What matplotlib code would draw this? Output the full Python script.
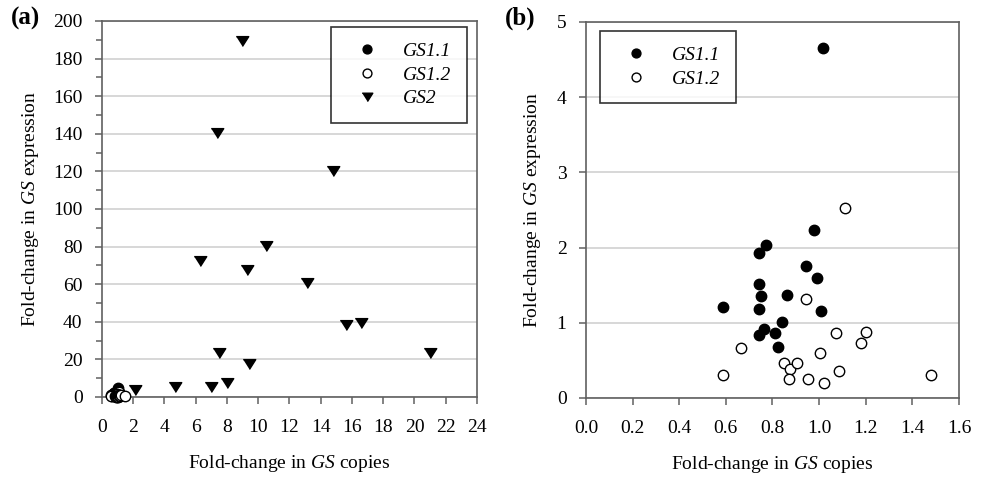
import matplotlib
matplotlib.use('Agg')
import matplotlib.pyplot as plt
from matplotlib.ticker import MultipleLocator, FormatStrFormatter

plt.rcParams['font.family'] = ['Liberation Serif', 'DejaVu Serif']
plt.rcParams['mathtext.fontset'] = 'custom'
plt.rcParams['mathtext.rm'] = 'Liberation Serif'
plt.rcParams['mathtext.it'] = 'Liberation Serif:italic'

# GS1.1 (filled circles): copies fold-change vs expression fold-change
gs11_x = [0.586, 0.743, 0.774, 0.741, 0.750, 0.744, 0.763, 0.744, 0.813,
          0.824, 0.840, 0.861, 0.943, 0.980, 0.989, 1.010, 1.015]
gs11_y = [1.21, 1.93, 2.03, 1.51, 1.36, 1.18, 0.92, 0.84, 0.86,
          0.68, 1.01, 1.37, 1.76, 2.24, 1.60, 1.16, 4.66]

# GS1.2 (open circles)
gs12_x = [1.110, 0.944, 0.663, 0.586, 0.851, 0.874, 0.904, 0.869,
          0.953, 1.004, 1.021, 1.071, 1.084, 1.179, 1.200, 1.481]
gs12_y = [2.52, 1.32, 0.67, 0.31, 0.46, 0.38, 0.47, 0.25,
          0.25, 0.60, 0.20, 0.86, 0.36, 0.73, 0.88, 0.31]

# GS2 (triangles), panel (a) only
gs2_x = [8.95, 7.35, 14.8, 6.3, 10.5, 9.3, 13.1, 15.6,
         16.6, 21.0, 7.5, 9.4, 8.0, 7.0, 4.7, 2.1]
gs2_y = [190, 141, 121, 73, 81, 68, 61, 39,
         40, 24, 24, 18, 8, 6, 6, 4]

spine_col = '#606060'
grid_col = '#d4d4d4'
fs = 14
tri = [(-1, 0.62), (1, 0.62), (0, -0.95)]   # flat downward triangle
leg_prop = {'family': 'Liberation Serif', 'style': 'italic', 'size': 14}

fig = plt.figure(figsize=(9.88, 4.78), dpi=100)
ax1 = fig.add_axes([0.1032, 0.1695, 0.3796, 0.7866])
ax2 = fig.add_axes([0.5931, 0.1674, 0.3775, 0.7866])

for ax in (ax1, ax2):
    for s in ax.spines.values():
        s.set_color(spine_col)
        s.set_linewidth(1.2)
    ax.tick_params(direction='out', colors=spine_col, labelcolor='black',
                   labelsize=fs, length=5, width=1.1)
    ax.tick_params(axis='x', pad=11)
    ax.tick_params(axis='y', pad=9)
    ax.tick_params(which='minor', direction='out', colors=spine_col, length=4, width=1.1)
    ax.yaxis.grid(True, color=grid_col, linewidth=1.3)
    ax.set_axisbelow(True)

# (a)
h2, = ax1.plot(gs2_x, gs2_y, marker=tri, ls='none', color='black', ms=9,
               clip_on=False, zorder=3)
h11, = ax1.plot(gs11_x, gs11_y, 'o', mfc='black', mec='black', ms=7.5,
                clip_on=False, zorder=4)
h12, = ax1.plot(gs12_x, gs12_y, 'o', mfc='white', mec='black', mew=1, ms=7.5,
                clip_on=False, zorder=5)
ax1.set_xlim(0, 24)
ax1.set_ylim(0, 200)
ax1.xaxis.set_major_locator(MultipleLocator(2))
ax1.yaxis.set_major_locator(MultipleLocator(20))
ax1.yaxis.set_minor_locator(MultipleLocator(10))
ax1.set_xlabel('Fold-change in $\\mathit{GS}$ copies', fontsize=fs, labelpad=12)
ax1.set_ylabel('Fold-change in $\\mathit{GS}$ expression', fontsize=fs, labelpad=8.5)
leg1 = ax1.legend([h11, h12, h2], ['GS1.1', 'GS1.2', 'GS2'], loc='upper right',
                  prop=leg_prop, frameon=True, fancybox=False, edgecolor='black',
                  borderpad=0.8, labelspacing=0.3, handletextpad=0.8,
                  borderaxespad=0, handlelength=2.1, markerscale=0.85,
                  bbox_to_anchor=(0.9733, 0.984))
leg1.get_frame().set_linewidth(1.2)

# (b)
g11, = ax2.plot(gs11_x, gs11_y, 'o', mfc='black', mec='black', ms=7.5, zorder=4)
g12, = ax2.plot(gs12_x, gs12_y, 'o', mfc='white', mec='black', mew=1, ms=7.5, zorder=5)
ax2.set_xlim(0, 1.6)
ax2.set_ylim(0, 5)
ax2.xaxis.set_major_locator(MultipleLocator(0.2))
ax2.xaxis.set_major_formatter(FormatStrFormatter('%.1f'))
ax2.yaxis.set_major_locator(MultipleLocator(1))
ax2.set_xlabel('Fold-change in $\\mathit{GS}$ copies', fontsize=fs, labelpad=12)
ax2.set_ylabel('Fold-change in $\\mathit{GS}$ expression', fontsize=fs, labelpad=9.5)
leg2 = ax2.legend([g11, g12], ['GS1.1', 'GS1.2'], loc='upper left', prop=leg_prop,
                  frameon=True, fancybox=False, edgecolor='black', borderpad=0.8,
                  labelspacing=0.3, handletextpad=0.8, borderaxespad=0,
                  handlelength=2.1, markerscale=0.85,
                  bbox_to_anchor=(0.0375, 0.976))
leg2.get_frame().set_linewidth(1.2)

fig.text(0.011, 0.962, '(a)', fontsize=18, fontweight='bold', va='center')
fig.text(0.511, 0.962, '(b)', fontsize=18, fontweight='bold', va='center')

fig.savefig('out.png', dpi=100)
